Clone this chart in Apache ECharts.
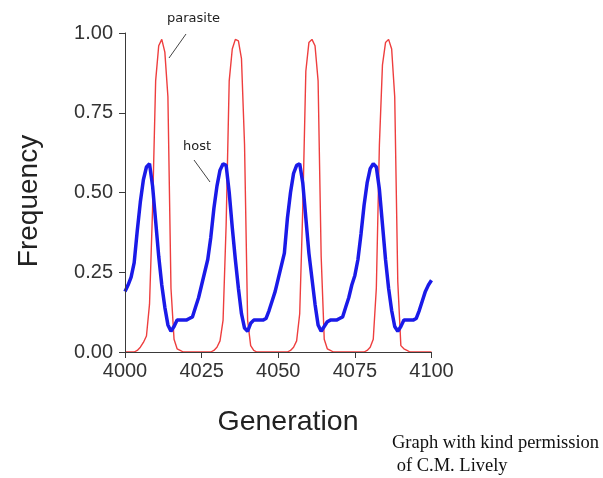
<!DOCTYPE html>
<html><head><meta charset="utf-8">
<script src="https://cdn.jsdelivr.net/npm/echarts@6/dist/echarts.min.js"></script>
<style>html,body{margin:0;padding:0;background:#fff}#c{width:603px;height:478px}</style>
</head><body><div id="c"></div>
<script>
const generations = [
 4000,4001,4002,4003,4004,4005,4006,4007,4008,4009,
 4010,4011,4012,4013,4014,4015,4016,4017,4018,4019,
 4020,4021,4022,4023,4024,4025,4026,4027,4028,4029,
 4030,4031,4032,4033,4034,4035,4036,4037,4038,4039,
 4040,4041,4042,4043,4044,4045,4046,4047,4048,4049,
 4050,4051,4052,4053,4054,4055,4056,4057,4058,4059,
 4060,4061,4062,4063,4064,4065,4066,4067,4068,4069,
 4070,4071,4072,4073,4074,4075,4076,4077,4078,4079,
 4080,4081,4082,4083,4084,4085,4086,4087,4088,4089,
 4090,4091,4092,4093,4094,4095,4096,4097,4098,4099,4100];

const hostFreq = [
 0.19,0.21,0.235,0.28,0.38,0.47,0.54,0.58,0.59,0.52,
 0.41,0.30,0.21,0.14,0.085,0.065,0.08,0.10,0.10,0.10,
 0.10,0.105,0.11,0.14,0.17,0.21,0.25,0.29,0.36,0.45,
 0.52,0.57,0.59,0.585,0.50,0.39,0.29,0.20,0.12,0.075,
 0.065,0.09,0.10,0.10,0.10,0.10,0.105,0.13,0.16,0.19,
 0.23,0.27,0.31,0.42,0.50,0.56,0.585,0.59,0.53,0.42,
 0.31,0.23,0.15,0.085,0.065,0.08,0.095,0.10,0.10,0.10,
 0.105,0.11,0.14,0.17,0.21,0.24,0.29,0.37,0.46,0.53,
 0.575,0.59,0.58,0.51,0.40,0.29,0.20,0.13,0.08,0.065,
 0.08,0.10,0.10,0.10,0.10,0.105,0.13,0.16,0.19,0.21,0.225];

const parasiteFreq = [
 0,0,0,0,0.005,0.015,0.03,0.05,0.15,0.45,
 0.85,0.96,0.98,0.94,0.80,0.20,0.04,0.01,0.005,0,
 0,0,0,0,0,0,0,0,0,0.005,
 0.015,0.035,0.10,0.40,0.85,0.95,0.98,0.975,0.92,0.65,
 0.10,0.02,0.005,0,0,0,0,0,0,0,
 0,0,0,0,0.005,0.015,0.035,0.12,0.45,0.88,
 0.97,0.98,0.96,0.85,0.30,0.04,0.01,0.005,0,0,
 0,0,0,0,0,0,0,0,0,0.005,
 0.015,0.04,0.20,0.65,0.90,0.97,0.98,0.95,0.80,0.22,
 0.02,0.01,0.005,0,0,0,0,0,0,0,0];

const xTickValues = [4000, 4025, 4050, 4075, 4100];
const yTickValues = [0, 0.25, 0.5, 0.75, 1.0];
const xTitle = 'Generation';
const yTitle = 'Frequency';
const seriesNames = ['parasite', 'host'];
const creditLines = ['Graph with kind permission', ' of C.M. Lively'];

const chart = echarts.init(document.getElementById('c'), null, {renderer: 'canvas'});
const axisColor = '#3a3a3a';
const labelFont = 'Liberation Sans, Arial, Helvetica, sans-serif';

chart.setOption({
  animation: false,
  backgroundColor: '#ffffff',
  grid: {left: 125, right: 171.5, top: 33, bottom: 126, containLabel: false},
  xAxis: {
    type: 'value', min: xTickValues[0], max: xTickValues[xTickValues.length - 1],
    interval: 25, z: 3,
    axisLine: {show: true, lineStyle: {color: axisColor, width: 1}},
    axisTick: {show: true, inside: false, length: 6, lineStyle: {color: axisColor}},
    axisLabel: {fontSize: 20, color: '#333', margin: 9, fontFamily: labelFont,
      formatter: v => String(v)},
    splitLine: {show: false}
  },
  yAxis: {
    type: 'value', min: yTickValues[0], max: yTickValues[yTickValues.length - 1],
    interval: 0.25, z: 3,
    axisLine: {show: true, lineStyle: {color: axisColor, width: 1}},
    axisTick: {show: true, inside: false, length: 6, lineStyle: {color: axisColor}},
    axisLabel: {fontSize: 20, color: '#333', margin: 12, fontFamily: labelFont,
      formatter: v => v.toFixed(2)},
    splitLine: {show: false}
  },
  series: [
    {
      name: seriesNames[0], type: 'line', showSymbol: false, symbol: 'none',
      data: generations.map((g, i) => [g, parasiteFreq[i]]),
      lineStyle: {color: '#ee3e3e', width: 1.4}, z: 2
    },
    {
      name: seriesNames[1], type: 'line', showSymbol: false, symbol: 'none',
      data: generations.map((g, i) => [g, hostFreq[i]]),
      lineStyle: {color: '#1a1ae8', width: 3.5}, z: 2
    }
  ],
  graphic: [
    {type: 'text', x: 29, y: 201, rotation: Math.PI / 2,
      style: {text: yTitle, fontSize: 28, fontFamily: labelFont, fill: '#222', align: 'center', verticalAlign: 'middle'}},
    {type: 'text', x: 288, y: 422,
      style: {text: xTitle, fontSize: 28.5, fontFamily: labelFont, fill: '#222', align: 'center', verticalAlign: 'middle'}},
    {type: 'text', left: 167, top: 12, style: {text: seriesNames[0], fontSize: 13, fontFamily: 'DejaVu Sans', fill: '#222'}},
    {type: 'line', shape: {x1: 186, y1: 34, x2: 169, y2: 58}, style: {stroke: '#444', lineWidth: 1}},
    {type: 'text', left: 183, top: 140, style: {text: seriesNames[1], fontSize: 13, fontFamily: 'DejaVu Sans', fill: '#222'}},
    {type: 'line', shape: {x1: 194, y1: 160, x2: 210, y2: 182}, style: {stroke: '#444', lineWidth: 1}},
    {type: 'text', left: 392, top: 434, style: {text: creditLines[0], fontSize: 18.5, fontFamily: 'Liberation Serif', fill: '#111'}},
    {type: 'text', left: 392, top: 457, style: {text: creditLines[1], fontSize: 18.5, fontFamily: 'Liberation Serif', fill: '#111'}}
  ]
});
</script>
</body></html>
